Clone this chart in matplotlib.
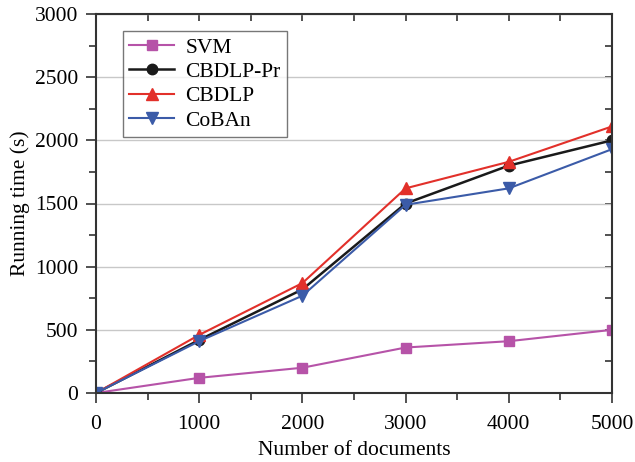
import matplotlib
matplotlib.use("Agg")
from matplotlib import pyplot as plt
from matplotlib.ticker import MultipleLocator

plt.rcParams['font.family'] = ['Liberation Serif', 'DejaVu Serif']

docs = [0, 1000, 2000, 3000, 4000, 5000]
svm = [0, 120, 200, 360, 410, 500]
cbdlp_pr = [0, 420, 820, 1500, 1800, 2000]
cbdlp = [0, 460, 870, 1620, 1830, 2110]
coban = [0, 410, 770, 1490, 1620, 1930]

fig = plt.figure(figsize=(6.35, 4.62), dpi=100)
ax = fig.add_axes([96/635, 1-393/462, (612-96)/635, (393-14)/462])

ax.plot(docs, svm, color='#b653a8', marker='s', ms=6.5, lw=1.5, label='SVM')
ax.plot(docs, cbdlp_pr, color='#1a1a1a', marker='o', ms=7.5, lw=1.8, label='CBDLP-Pr')
ax.plot(docs, cbdlp, color='#e2302a', marker='^', ms=8, lw=1.5, label='CBDLP')
ax.plot(docs, coban, color='#3b5ba8', marker='v', ms=8, lw=1.5, label='CoBAn')

ax.set_xlim(0, 5000)
ax.set_ylim(0, 3000)
ax.xaxis.set_major_locator(MultipleLocator(1000))
ax.xaxis.set_minor_locator(MultipleLocator(500))
ax.yaxis.set_major_locator(MultipleLocator(500))
ax.yaxis.set_minor_locator(MultipleLocator(250))
ax.grid(axis='y', color='#c8c8c8', lw=1)
ax.set_axisbelow(True)

ax.tick_params(which='both', direction='out', top=False, right=False,
               labelsize=15.5, width=1.2, color='#333333')
ax.tick_params(which='major', length=7)
ax.tick_params(which='minor', length=5)
ax.tick_params(axis='x', which='major', pad=9)
ax.tick_params(axis='y', which='major', pad=6)
for sp in ax.spines.values():
    sp.set_linewidth(1.5)
    sp.set_color('#333333')

# inward ticks on top and right
sec_x = ax.secondary_xaxis('top')
sec_x.xaxis.set_major_locator(MultipleLocator(500))
sec_x.tick_params(direction='in', length=5, labeltop=False, width=1.2, color='#333333')
sec_x.spines['top'].set_visible(False)
sec_y = ax.secondary_yaxis('right')
sec_y.yaxis.set_major_locator(MultipleLocator(250))
sec_y.tick_params(direction='in', length=5, labelright=False, width=1.2, color='#333333')
sec_y.spines['right'].set_visible(False)

ax.set_xlabel('Number of documents', fontsize=15.5, labelpad=5)
ax.set_ylabel('Running time (s)', fontsize=15.5, labelpad=3)

leg = ax.legend(loc='upper left', bbox_to_anchor=(0.052, 0.955), borderaxespad=0,
                fontsize=15.5, frameon=True, fancybox=False, edgecolor='#555555',
                handlelength=2.1, handletextpad=0.5, borderpad=0.3, labelspacing=0.2)
leg.get_frame().set_linewidth(1.0)

fig.savefig('out.png', dpi=100)
